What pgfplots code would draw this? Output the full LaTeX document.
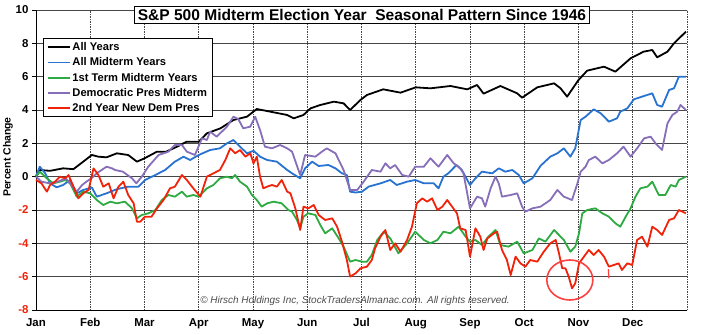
\documentclass[border=0pt]{standalone}
\usepackage{pgfplots}
\pgfplotsset{compat=1.18}
\usepackage{fontspec}
\setmainfont{Liberation Sans}
\definecolor{cBlue}{RGB}{40,115,210}
\definecolor{cGreen}{RGB}{45,170,65}
\definecolor{cPurple}{RGB}{135,110,185}
\definecolor{cRed}{RGB}{240,35,10}
\definecolor{cGrid}{RGB}{70,70,70}
\begin{document}
\begin{tikzpicture}
\useasboundingbox (0,0) rectangle (701bp,335bp);
\begin{axis}[
  at={(36bp,25bp)}, anchor=south west, scale only axis,
  width=651bp, height=300bp,
  xmin=0, xmax=12, ymin=-8, ymax=10,
  xtick={0,...,12},
  xticklabels={Jan,Feb,Mar,Apr,May,Jun,Jul,Aug,Sep,Oct,Nov,Dec,{}},
  ytick={-8,-6,-4,-2,0,2,4,6,8,10},
  yticklabels={{\color{cRed}-8},{\color{cRed}-6},{\color{cRed}-4},{\color{cRed}-2},0,2,4,6,8,10},
  axis x line=bottom, axis y line=left,
  axis line style={-, black, line width=1bp},
  tick align=outside, major tick length=4bp,
  xtick style={draw=none},
  ytick style={black, line width=0.8bp},
  grid=major,
  x grid style={cGrid, line width=0.6bp, dash pattern=on 1.5bp off 1bp},
  y grid style={cGrid, line width=0.9bp},
  tick label style={font=\bfseries\fontsize{11.5}{13}\selectfont},
  xticklabel style={yshift=-1bp},
  /pgf/number format/assume math mode=true,
  legend style={at={(0.0112,0.906)}, anchor=north west, draw=black, fill=white,
    line width=0.8bp, font=\bfseries\fontsize{11.2}{12}\selectfont,
    row sep=1.6bp, inner xsep=3bp, inner ysep=2bp},
  legend cell align=left,
  legend image code/.code={\draw[#1, line width=1.8bp] (0bp,0bp) -- (22bp,0bp);},
  every axis plot/.append style={line width=1.8bp, line join=round},
  clip=false,
]
\addplot[black] coordinates {(0,0) (0.07,0.4) (0.26,0.35) (0.5,0.5) (0.69,0.45) (0.87,0.9) (1.03,1.3) (1.15,1.2) (1.3,1.16) (1.49,1.4) (1.7,1.3) (1.86,0.9) (2.0,1.1) (2.23,1.5) (2.4,1.5) (2.6,1.8) (2.78,2.1) (3.0,2.1) (3.15,2.6) (3.4,2.9) (3.64,3.4) (3.89,3.6) (4.07,4.06) (4.32,3.9) (4.63,3.7) (4.75,3.5) (4.93,3.7) (5.06,4.1) (5.24,4.3) (5.49,4.5) (5.67,4.4) (5.79,4.0) (5.98,4.6) (6.1,4.9) (6.4,5.24) (6.72,5.04) (7.0,5.36) (7.27,5.3) (7.64,5.44) (7.95,5.24) (8.13,5.5) (8.25,4.98) (8.56,5.44) (8.87,5.0) (8.96,4.74) (9.24,5.36) (9.55,5.6) (9.67,5.3) (9.79,4.8) (10.0,5.8) (10.16,6.36) (10.47,6.6) (10.68,6.3) (10.96,7.1) (11.2,7.5) (11.36,7.6) (11.45,7.16) (11.64,7.5) (11.76,8.0) (11.98,8.7)};
\addlegendentry{All Years}
\addplot[cBlue] coordinates {(0,0.04) (0.07,0.6) (0.17,0.2) (0.26,-0.4) (0.38,-0.64) (0.5,-0.5) (0.63,-0.2) (0.75,-1.0) (0.87,-0.8) (1.03,-0.65) (1.12,-1.2) (1.3,-1.0) (1.49,-0.75) (1.7,-0.6) (1.89,-0.6) (2.01,-0.2) (2.2,0.1) (2.38,0.4) (2.56,0.9) (2.72,1.2) (2.84,1.0) (3.0,1.3) (3.21,1.6) (3.39,1.7) (3.52,2.0) (3.64,2.2) (3.76,1.8) (3.89,1.4) (4.01,1.55) (4.13,1.2) (4.26,1.0) (4.44,0.9) (4.63,0.4) (4.72,0.2) (4.87,-0.1) (4.96,0.5) (5.09,0.9) (5.21,0.64) (5.39,0.7) (5.52,0.5) (5.64,0.2) (5.73,0.1) (5.79,-0.9) (5.89,-0.95) (6.01,-0.9) (6.13,-0.6) (6.35,-0.4) (6.53,-0.2) (6.65,-0.5) (6.84,-0.3) (6.99,-0.2) (7.15,-0.4) (7.33,-0.4) (7.42,-0.7) (7.51,0.0) (7.6,0.2) (7.75,0.7) (7.85,0.4) (8.0,-0.5) (8.1,-0.1) (8.22,0.3) (8.41,0.2) (8.53,0.5) (8.65,0.3) (8.78,0.4) (8.9,0.1) (8.99,-0.4) (9.15,-0.1) (9.3,0.65) (9.48,1.2) (9.61,1.4) (9.73,1.7) (9.85,1.2) (9.94,1.7) (10.04,3.4) (10.13,3.6) (10.28,4.04) (10.41,3.8) (10.56,3.3) (10.71,3.5) (10.77,3.9) (10.9,4.1) (11.02,4.64) (11.17,4.8) (11.36,5.0) (11.45,4.3) (11.54,4.2) (11.67,5.2) (11.76,5.3) (11.85,6.0) (11.98,6.0)};
\addlegendentry{All Midterm Years}
\addplot[cGreen] coordinates {(0,0.0) (0.07,0.3) (0.2,-0.1) (0.32,-0.4) (0.44,-0.3) (0.54,-0.2) (0.63,-0.4) (0.75,-1.2) (0.87,-0.9) (1.0,-1.0) (1.12,-1.4) (1.24,-1.7) (1.37,-1.5) (1.49,-1.6) (1.64,-1.5) (1.77,-1.9) (1.86,-2.5) (1.95,-2.3) (2.07,-2.2) (2.2,-2.0) (2.32,-1.4) (2.44,-1.1) (2.56,-1.2) (2.69,-0.9) (2.78,-1.2) (2.9,-1.1) (3.0,-1.2) (3.15,-0.7) (3.27,-0.5) (3.39,-0.1) (3.52,0.0) (3.61,-0.1) (3.67,0.1) (3.76,-0.3) (3.89,-0.6) (3.98,-1.1) (4.07,-1.4) (4.16,-1.8) (4.26,-1.6) (4.38,-1.5) (4.53,-1.6) (4.65,-2.0) (4.72,-2.1) (4.81,-2.6) (4.87,-3.1) (4.93,-2.4) (5.02,-2.2) (5.15,-2.3) (5.24,-2.9) (5.33,-3.4) (5.46,-3.1) (5.58,-3.7) (5.67,-4.2) (5.79,-5.1) (5.89,-5.0) (6.01,-5.1) (6.1,-5.1) (6.19,-4.7) (6.29,-3.8) (6.41,-3.3) (6.53,-3.7) (6.68,-4.6) (6.84,-4.0) (6.99,-3.3) (7.15,-3.8) (7.27,-4.0) (7.4,-3.8) (7.51,-3.3) (7.64,-3.4) (7.79,-3.0) (7.92,-3.6) (8.0,-3.9) (8.1,-3.8) (8.22,-4.1) (8.34,-3.6) (8.47,-3.2) (8.56,-4.1) (8.71,-4.2) (8.87,-3.9) (8.99,-4.6) (9.15,-4.4) (9.27,-3.7) (9.39,-3.9) (9.55,-3.2) (9.64,-3.5) (9.73,-3.8) (9.85,-4.5) (9.94,-4.2) (10.01,-3.4) (10.07,-2.2) (10.16,-2.0) (10.31,-1.9) (10.44,-2.2) (10.56,-2.4) (10.68,-2.8) (10.77,-3.0) (10.87,-2.4) (10.96,-1.9) (11.05,-1.2) (11.14,-0.7) (11.27,-0.6) (11.36,-0.3) (11.48,-1.1) (11.6,-1.1) (11.7,-0.5) (11.79,-0.6) (11.85,-0.2) (11.98,0.0)};
\addlegendentry{1st Term Midterm Years}
\addplot[cPurple] coordinates {(0,0) (0.1,-0.3) (0.25,-0.4) (0.4,-0.3) (0.55,-0.1) (0.65,-0.5) (0.75,-0.9) (0.85,-0.5) (0.93,-0.3) (1.02,-0.1) (1.12,0.2) (1.3,0.6) (1.4,0.5) (1.46,0.4) (1.6,0.3) (1.77,-0.1) (1.85,-0.4) (1.95,0.0) (2.07,0.6) (2.26,1.3) (2.44,1.5) (2.56,1.9) (2.69,1.9) (2.78,1.5) (2.93,1.3) (3.06,2.3) (3.15,2.2) (3.21,2.7) (3.33,2.4) (3.52,3.0) (3.64,3.6) (3.73,3.45) (3.82,2.9) (3.95,3.0) (4.04,3.6) (4.13,2.8) (4.22,1.8) (4.35,1.7) (4.5,1.9) (4.63,1.7) (4.72,1.5) (4.87,0.1) (4.96,1.3) (5.15,1.2) (5.27,1.5) (5.36,1.7) (5.52,1.4) (5.67,0.4) (5.79,-0.8) (5.92,-0.8) (6.04,-0.3) (6.19,0.4) (6.35,0.3) (6.44,0.8) (6.53,0.5) (6.62,0.7) (6.75,0.1) (6.87,0.0) (6.99,0.6) (7.15,0.6) (7.27,1.1) (7.42,0.6) (7.58,1.3) (7.7,0.8) (7.82,0.5) (7.88,0.2) (8.0,-1.9) (8.13,-1.2) (8.22,-1.3) (8.28,-1.8) (8.38,-0.7) (8.47,0.0) (8.53,-0.4) (8.59,-1.2) (8.75,-1.1) (8.87,-1.0) (8.96,-1.8) (9.02,-2.1) (9.15,-1.9) (9.3,-1.8) (9.48,-1.4) (9.61,-0.8) (9.73,-1.2) (9.88,-1.4) (9.98,-0.4) (10.04,0.3) (10.13,0.6) (10.19,1.0) (10.31,1.2) (10.44,0.8) (10.56,1.0) (10.71,1.4) (10.83,1.8) (10.96,1.2) (11.08,1.7) (11.21,2.3) (11.33,2.4) (11.42,2.0) (11.54,1.6) (11.64,3.2) (11.73,3.7) (11.82,3.9) (11.88,4.3) (11.98,4.0)};
\addlegendentry{Democratic Pres Midterm}
\addplot[cRed] coordinates {(0,-0.2) (0.1,-0.4) (0.2,-0.9) (0.26,-0.5) (0.35,-0.3) (0.44,0.0) (0.54,-0.1) (0.6,0.1) (0.69,-0.6) (0.78,-1.3) (0.87,-1.0) (0.97,-0.8) (1.06,0.5) (1.15,0.1) (1.24,-0.6) (1.34,-0.4) (1.43,-1.3) (1.52,-0.6) (1.61,-0.3) (1.7,-1.1) (1.8,-1.6) (1.86,-2.7) (1.92,-2.7) (2.01,-2.4) (2.13,-2.4) (2.23,-1.9) (2.35,-1.4) (2.47,-0.7) (2.56,-0.6) (2.69,0.1) (2.78,-0.2) (2.9,-0.7) (3.03,-1.2) (3.15,0.0) (3.27,0.2) (3.39,0.4) (3.49,1.0) (3.58,1.7) (3.67,1.4) (3.76,1.6) (3.86,1.2) (3.95,1.4) (4.01,0.8) (4.07,1.2) (4.13,0.0) (4.19,-0.7) (4.26,-0.6) (4.35,-0.5) (4.44,-0.6) (4.53,-0.2) (4.63,-0.9) (4.69,-1.0) (4.78,-1.9) (4.87,-3.2) (4.93,-1.8) (5.02,-1.9) (5.12,-1.7) (5.21,-2.3) (5.33,-2.6) (5.46,-2.5) (5.55,-3.0) (5.64,-3.9) (5.73,-5.0) (5.79,-6.0) (5.89,-5.8) (5.98,-5.5) (6.1,-5.4) (6.19,-5.0) (6.25,-4.3) (6.35,-3.6) (6.44,-3.2) (6.53,-4.4) (6.62,-4.0) (6.72,-4.5) (6.84,-3.8) (6.93,-3.0) (7.02,-1.6) (7.12,-1.3) (7.21,-1.5) (7.3,-1.3) (7.4,-2.0) (7.49,-1.8) (7.58,-1.4) (7.67,-1.8) (7.76,-2.2) (7.82,-3.1) (7.92,-3.2) (8.0,-4.8) (8.1,-3.1) (8.19,-3.6) (8.25,-4.4) (8.32,-3.7) (8.44,-3.4) (8.5,-3.3) (8.59,-4.4) (8.68,-5.0) (8.75,-5.9) (8.84,-4.8) (8.93,-5.2) (9.02,-5.4) (9.11,-5.0) (9.24,-5.1) (9.36,-4.5) (9.48,-4.0) (9.58,-3.8) (9.64,-4.6) (9.7,-5.5) (9.76,-5.5) (9.82,-6.0) (9.88,-6.7) (9.94,-6.4) (10.01,-5.2) (10.1,-4.8) (10.19,-4.4) (10.28,-4.7) (10.37,-4.4) (10.47,-4.8) (10.56,-5.4) (10.65,-5.3) (10.74,-5.2) (10.8,-5.6) (10.9,-5.2) (10.99,-5.3) (11.08,-3.8) (11.17,-3.6) (11.27,-4.2) (11.36,-3.0) (11.45,-3.2) (11.54,-3.5) (11.67,-2.6) (11.76,-2.5) (11.85,-2.0) (11.98,-2.2)};
\addlegendentry{2nd Year New Dem Pres}
\draw[red!75!white, line width=1.6bp] (axis cs:9.84,-6.2) ellipse [x radius=23bp, y radius=20bp];
\draw[red!75!white, line width=1.2bp] (axis cs:10.55,-5.55) -- (axis cs:10.56,-6.1);
\end{axis}
\node[draw=black, fill=white, line width=0.8bp, inner xsep=3bp, inner ysep=2.5bp,
  font=\bfseries\fontsize{15.6}{15.6}\selectfont] at (362bp,320bp)
  {S\&P 500 Midterm Election Year \ Seasonal Pattern Since 1946};
\node[font=\itshape\fontsize{10}{10}\selectfont, text=black!70, anchor=base] at (355bp,32bp)
  {\textcopyright\ Hirsch Holdings Inc, StockTradersAlmanac.com. All rights reserved.};
\node[rotate=90, font=\bfseries\fontsize{10.5}{10.5}\selectfont] at (8bp,178bp) {Percent Change};
\end{tikzpicture}
\end{document}
